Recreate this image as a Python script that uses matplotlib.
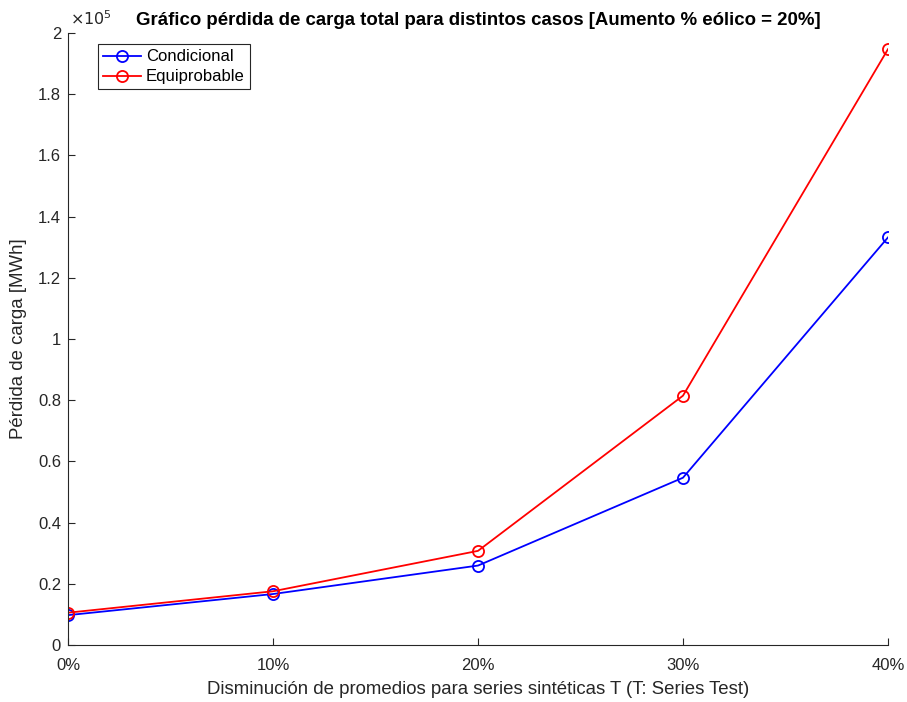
import matplotlib.pyplot as plt
from matplotlib.ticker import FuncFormatter

plt.rcParams['font.family'] = ['Liberation Sans', 'DejaVu Sans']

# datos de perdida de carga [MWh]
casos = ['0%', '10%', '20%', '30%', '40%']
condicional = [9800, 16700, 26000, 54700, 133200]
equiprobable = [10600, 17600, 30800, 81500, 194700]

escala = 1e5
gris = '#262626'

fig = plt.figure(figsize=(9.07, 7.02), dpi=100)
ax = fig.add_axes([0.075, 0.081, 0.904, 0.872])

x = range(len(casos))
ax.plot(x, [v / escala for v in condicional], '-o', color='#0000ff', lw=1.3,
        ms=8, mfc='none', mew=1.3, label='Condicional')
ax.plot(x, [v / escala for v in equiprobable], '-o', color='#ff0000', lw=1.3,
        ms=8, mfc='none', mew=1.3, label='Equiprobable')

ax.set_xlim(0, len(casos) - 1)
ax.set_ylim(0, 2)
ax.set_xticks(list(x))
ax.set_xticklabels(casos)
ax.set_yticks([i * 0.2 for i in range(11)])
ax.yaxis.set_major_formatter(FuncFormatter(lambda v, p: '%g' % round(v, 1)))

for s in ['top', 'right']:
    ax.spines[s].set_visible(False)
for s in ['left', 'bottom']:
    ax.spines[s].set_color(gris)
    ax.spines[s].set_linewidth(0.8)
ax.tick_params(direction='in', length=5, width=0.8, colors=gris, labelsize=12)
ax.tick_params(axis='x', pad=9)
ax.tick_params(axis='y', pad=5)

ax.text(0.002, 1.008, r'$\times10^5$', transform=ax.transAxes, fontsize=11.5,
        color=gris, va='bottom', ha='left')

ax.set_title('Gráfico pérdida de carga total para distintos casos [Aumento % eólico = 20%]',
             fontsize=13.4, fontweight='bold', pad=6)
ax.set_xlabel('Disminución de promedios para series sintéticas T (T: Series Test)',
              fontsize=13.4, color=gris, labelpad=6)
ax.set_ylabel('Pérdida de carga [MWh]', fontsize=13.4, color=gris, labelpad=8)

leg = ax.legend(loc='upper left', bbox_to_anchor=(0.026, 0.995), fancybox=False,
                framealpha=1, edgecolor=gris, fontsize=12, numpoints=1,
                handlelength=2.3, borderpad=0.3, labelspacing=0.3, handletextpad=0.3)
leg.get_frame().set_linewidth(0.8)

fig.savefig('out.png', dpi=100)
